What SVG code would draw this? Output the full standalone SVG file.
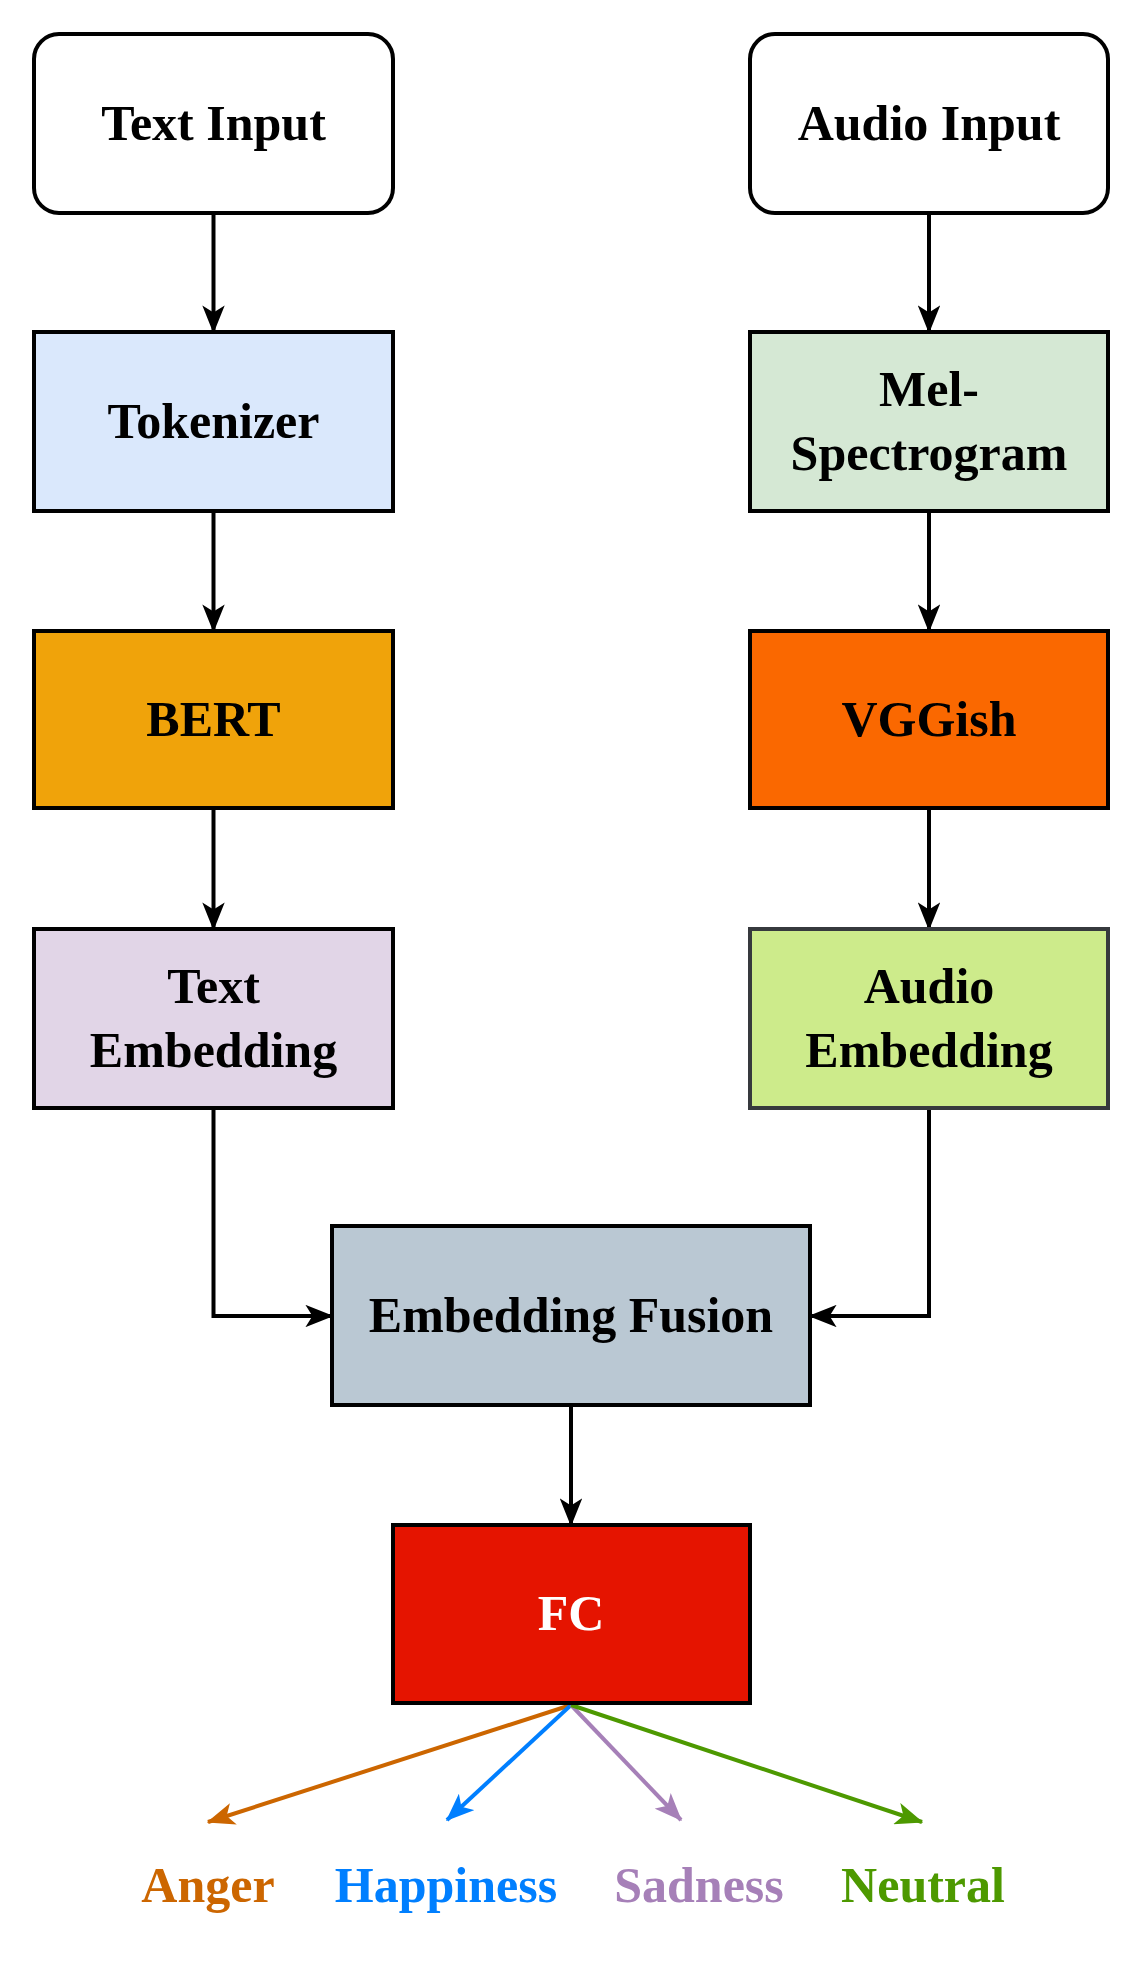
<svg xmlns="http://www.w3.org/2000/svg" width="1146" height="1986" viewBox="0 0 1146 1986">
<style>
.n{stroke:#000;stroke-width:4}
.t{font-family:"Liberation Serif",serif;font-weight:bold;font-size:50px;text-anchor:middle}
.c{fill:none;stroke:#000;stroke-width:4}
</style>
<defs>
<marker id="a" viewBox="0 0 20 16" refX="19" refY="8" markerWidth="7" markerHeight="5.6" orient="auto" markerUnits="strokeWidth"><path d="M0,0 L20,8 L0,16 L5,8 Z" fill="context-stroke"/></marker>
<marker id="ab" viewBox="0 0 20 16" refX="19" refY="8" markerWidth="7" markerHeight="5.6" orient="auto" markerUnits="strokeWidth"><path d="M0,0 L20,8 L0,16 L5,8 Z" fill="#000"/></marker>
<marker id="a1" viewBox="0 0 20 16" refX="19" refY="8" markerWidth="7" markerHeight="5.6" orient="auto" markerUnits="strokeWidth"><path d="M0,0 L20,8 L0,16 L5,8 Z" fill="#cc6600"/></marker>
<marker id="a2" viewBox="0 0 20 16" refX="19" refY="8" markerWidth="7" markerHeight="5.6" orient="auto" markerUnits="strokeWidth"><path d="M0,0 L20,8 L0,16 L5,8 Z" fill="#007fff"/></marker>
<marker id="a3" viewBox="0 0 20 16" refX="19" refY="8" markerWidth="7" markerHeight="5.6" orient="auto" markerUnits="strokeWidth"><path d="M0,0 L20,8 L0,16 L5,8 Z" fill="#a680b8"/></marker>
<marker id="a4" viewBox="0 0 20 16" refX="19" refY="8" markerWidth="7" markerHeight="5.6" orient="auto" markerUnits="strokeWidth"><path d="M0,0 L20,8 L0,16 L5,8 Z" fill="#4d9900"/></marker>
</defs>
<rect width="1146" height="1986" fill="#fff"/>
<g id="connectors">
<path class="c" marker-end="url(#ab)" d="M213.5,213 V332"/>
<path class="c" marker-end="url(#ab)" d="M213.5,511 V631"/>
<path class="c" marker-end="url(#ab)" d="M213.5,808 V929"/>
<path class="c" marker-end="url(#ab)" d="M929,213 V332"/>
<path class="c" marker-end="url(#ab)" d="M929,511 V631"/>
<path class="c" marker-end="url(#ab)" d="M929,808 V929"/>
<path class="c" marker-end="url(#ab)" d="M213.5,1108 V1316 H332"/>
<path class="c" marker-end="url(#ab)" d="M929,1108 V1316 H810"/>
<path class="c" marker-end="url(#ab)" d="M571,1405 V1525"/>
<path fill="none" stroke="#cc6600" stroke-width="4" marker-end="url(#a1)" d="M571,1705 L208,1822"/>
<path fill="none" stroke="#007fff" stroke-width="4" marker-end="url(#a2)" d="M571,1705 L447,1820"/>
<path fill="none" stroke="#a680b8" stroke-width="4" marker-end="url(#a3)" d="M571,1705 L681,1820"/>
<path fill="none" stroke="#4d9900" stroke-width="4" marker-end="url(#a4)" d="M571,1705 L922,1822"/>
</g>
<g id="text-input"><rect class="n" x="34" y="34" width="359" height="179" rx="25" fill="#fff"/><text class="t" x="213.5" y="140">Text Input</text></g>
<g id="audio-input"><rect class="n" x="750" y="34" width="358" height="179" rx="25" fill="#fff"/><text class="t" x="929" y="140">Audio Input</text></g>
<g id="tokenizer"><rect class="n" x="34" y="332" width="359" height="179" fill="#dae8fc"/><text class="t" x="213.5" y="438">Tokenizer</text></g>
<g id="mel"><rect class="n" x="750" y="332" width="358" height="179" fill="#d5e8d4"/><text class="t" x="929" y="406">Mel-</text><text class="t" x="929" y="470">Spectrogram</text></g>
<g id="bert"><rect class="n" x="34" y="631" width="359" height="177" fill="#f0a30a"/><text class="t" x="213.5" y="736">BERT</text></g>
<g id="vggish"><rect class="n" x="750" y="631" width="358" height="177" fill="#fa6800"/><text class="t" x="929" y="736">VGGish</text></g>
<g id="text-emb"><rect class="n" x="34" y="929" width="359" height="179" fill="#e1d5e7"/><text class="t" x="213.5" y="1003">Text</text><text class="t" x="213.5" y="1067">Embedding</text></g>
<g id="audio-emb"><rect x="750" y="929" width="358" height="179" fill="#cdeb8b" stroke="#36393d" stroke-width="4"/><text class="t" x="929" y="1003">Audio</text><text class="t" x="929" y="1067">Embedding</text></g>
<g id="fusion"><rect class="n" x="332" y="1226" width="478" height="179" fill="#bac8d3"/><text class="t" x="571" y="1332">Embedding Fusion</text></g>
<g id="fc"><rect class="n" x="393" y="1525" width="357" height="178" fill="#e51400"/><text class="t" x="571" y="1630" fill="#fff">FC</text></g>
<g id="labels">
<text class="t" x="208" y="1902" fill="#cc6600">Anger</text>
<text class="t" x="446" y="1902" fill="#007fff">Happiness</text>
<text class="t" x="699" y="1902" fill="#a680b8">Sadness</text>
<text class="t" x="923" y="1902" fill="#4d9900">Neutral</text>
</g>
</svg>
